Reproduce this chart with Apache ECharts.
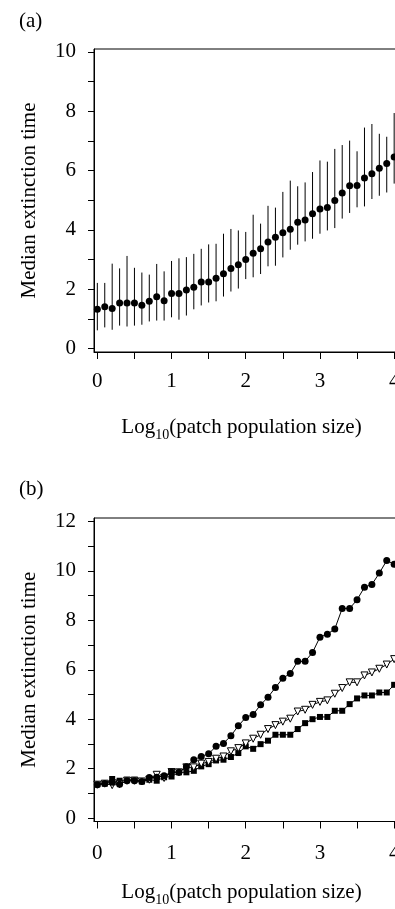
<!DOCTYPE html>
<html>
<head>
<meta charset="utf-8">
<script src="https://cdn.jsdelivr.net/npm/echarts@6/dist/echarts.min.js"></script>
<style>
html,body{margin:0;padding:0;background:#fff;}
#chart{width:395px;height:909px;}
</style>
</head>
<body>
<div id="chart"></div>
<script>
// x positions: log10(patch population size)
const xVals = [0,0.1,0.2,0.3,0.4,0.5,0.6,0.7,0.8,0.9,1.0,1.1,1.2,1.3,1.4,1.5,1.6,1.7,1.8,1.9,2.0,2.1,2.2,2.3,2.4,2.5,2.6,2.7,2.8,2.9,3.0,3.1,3.2,3.3,3.4,3.5,3.6,3.7,3.8,3.9,4.0];

// Panel (a): median extinction time with error bars
const medianA = [1.32,1.41,1.35,1.53,1.53,1.53,1.46,1.59,1.74,1.61,1.85,1.85,1.97,2.06,2.24,2.24,2.37,2.52,2.70,2.82,3.00,3.21,3.36,3.59,3.75,3.90,4.02,4.26,4.33,4.54,4.70,4.75,4.99,5.24,5.49,5.50,5.75,5.89,6.08,6.24,6.46];
const lowA = [0.61,0.71,0.63,0.77,0.74,0.77,0.80,0.91,0.94,0.94,1.05,0.97,1.11,1.32,1.45,1.55,1.59,1.75,1.92,2.02,2.34,2.40,2.51,2.77,2.79,3.07,3.33,3.50,3.61,3.70,3.87,3.98,4.06,4.38,4.57,4.76,4.79,5.04,5.15,5.26,5.56];
const highA = [2.21,2.21,2.86,2.70,3.12,2.72,2.56,2.49,2.85,2.60,2.95,3.04,3.08,3.19,3.36,3.51,3.53,3.87,4.03,3.98,3.93,4.51,4.21,4.81,4.75,5.28,5.66,5.47,5.60,5.95,6.34,6.30,6.73,6.86,7.01,6.65,7.45,7.57,7.24,7.14,7.94];

// Panel (b): three series
const circB = [1.35,1.40,1.45,1.37,1.51,1.51,1.48,1.64,1.65,1.71,1.86,1.85,2.08,2.36,2.49,2.60,2.90,3.02,3.33,3.73,4.07,4.19,4.58,4.89,5.28,5.66,5.85,6.34,6.34,6.70,7.32,7.44,7.65,8.48,8.48,8.83,9.34,9.45,9.91,10.42,10.27];
const triB = [1.35,1.39,1.33,1.37,1.51,1.51,1.48,1.55,1.75,1.62,1.86,1.85,2.05,2.05,2.20,2.27,2.40,2.49,2.70,2.83,3.02,3.21,3.37,3.60,3.76,3.90,4.02,4.31,4.38,4.58,4.70,4.76,5.03,5.26,5.49,5.49,5.77,5.89,6.04,6.21,6.43];
const sqB = [1.37,1.39,1.58,1.51,1.55,1.55,1.48,1.55,1.51,1.65,1.68,1.85,1.85,1.91,2.09,2.18,2.33,2.36,2.47,2.63,2.90,2.80,2.99,3.13,3.37,3.37,3.37,3.60,3.84,4.00,4.09,4.09,4.34,4.34,4.61,4.84,4.96,4.96,5.08,5.08,5.39];

// Tick values
const xTicks = [0,0.5,1,1.5,2,2.5,3,3.5,4];
const xLabels = [0,1,2,3,4];
const yTicksA = [0,1,2,3,4,5,6,7,8,9,10];
const yLabelsA = [0,2,4,6,8,10];
const yTicksB = [0,1,2,3,4,5,6,7,8,9,10,11,12];
const yLabelsB = [0,2,4,6,8,10,12];

const FONT = "'Liberation Serif','DejaVu Serif',serif";
const chart = echarts.init(document.getElementById('chart'), null, {renderer:'canvas'});

function xAxisCfg(gi, labelMargin, nameGap){
  return {
    type:'value', gridIndex:gi, min:-0.045, max:4.2,
    name:'Log{sub|10}(patch population size)', nameLocation:'middle', nameGap:nameGap,
    nameTextStyle:{fontFamily:FONT, fontSize:21, color:'#000', lineHeight:30, padding:[0,20,0,0],
      rich:{sub:{fontFamily:FONT, fontSize:14, lineHeight:14, verticalAlign:'bottom', color:'#000'}}},
    axisLine:{show:true, onZero:false, lineStyle:{color:'#000', width:1}},
    axisTick:{show:true, length:7, customValues:xTicks, lineStyle:{color:'#000'}},
    axisLabel:{customValues:xLabels, margin:labelMargin, fontFamily:FONT, fontSize:21, color:'#000', hideOverlap:false},
    splitLine:{show:false}
  };
}
function yAxisCfg(gi, min, max, ticks, labels){
  return {
    type:'value', gridIndex:gi, min:min, max:max,
    name:'Median extinction time', nameLocation:'middle', nameGap:54,
    nameTextStyle:{fontFamily:FONT, fontSize:21, color:'#000'},
    axisLine:{show:true, onZero:false, lineStyle:{color:'#000', width:1}},
    axisTick:{show:true, length:6, customValues:ticks, lineStyle:{color:'#000'}},
    axisLabel:{customValues:labels, margin:18, fontFamily:FONT, fontSize:21, color:'#000'},
    splitLine:{show:false}
  };
}

const errData = xVals.map((x,i)=>[x, lowA[i], highA[i]]);

const option = {
  animation:false,
  backgroundColor:'#fff',
  title:[
    {text:'(a)', left:14, top:6, textStyle:{fontFamily:FONT, fontSize:21, fontWeight:'normal', color:'#000'}},
    {text:'(b)', left:14, top:474, textStyle:{fontFamily:FONT, fontSize:21, fontWeight:'normal', color:'#000'}}
  ],
  grid:[
    {left:94, top:49, width:315, height:303, show:true, borderColor:'#000', borderWidth:1, backgroundColor:'transparent', containLabel:false, outerBoundsMode:'none'},
    {left:94, top:518, width:315, height:303.5, show:true, borderColor:'#000', borderWidth:1, backgroundColor:'transparent', containLabel:false, outerBoundsMode:'none'}
  ],
  xAxis:[xAxisCfg(0, 19, 60), xAxisCfg(1, 21, 56)],
  yAxis:[yAxisCfg(0,-0.12,10.1,yTicksA,yLabelsA), yAxisCfg(1,-0.14,12.14,yTicksB,yLabelsB)],
  series:[
    {
      type:'custom', xAxisIndex:0, yAxisIndex:0, data:errData,
      encode:{x:0, y:[1,2]},
      renderItem:function(params, api){
        const x = api.value(0);
        const p1 = api.coord([x, api.value(1)]);
        const p2 = api.coord([x, api.value(2)]);
        return {type:'line', shape:{x1:p1[0], y1:p1[1], x2:p2[0], y2:p2[1]}, style:{stroke:'#000', lineWidth:1}};
      },
      z:1
    },
    {
      type:'scatter', xAxisIndex:0, yAxisIndex:0,
      data:xVals.map((x,i)=>[x, medianA[i]]),
      symbol:'circle', symbolSize:7, itemStyle:{color:'#000', opacity:1}, z:2
    },
    {
      type:'line', xAxisIndex:1, yAxisIndex:1,
      data:xVals.map((x,i)=>[x, sqB[i]]),
      symbol:'rect', symbolSize:6, showAllSymbol:true,
      lineStyle:{color:'#000', width:1}, itemStyle:{color:'#000', borderWidth:0}, z:2
    },
    {
      type:'line', xAxisIndex:1, yAxisIndex:1,
      data:xVals.map((x,i)=>[x, triB[i]]),
      symbol:'triangle', symbolRotate:180, symbolSize:7, showAllSymbol:true,
      lineStyle:{color:'#000', width:1}, itemStyle:{color:'#fff', borderColor:'#000', borderWidth:1}, z:3
    },
    {
      type:'line', xAxisIndex:1, yAxisIndex:1,
      data:xVals.map((x,i)=>[x, circB[i]]),
      symbol:'circle', symbolSize:7, showAllSymbol:true,
      lineStyle:{color:'#000', width:1}, itemStyle:{color:'#000', borderWidth:0}, z:4
    }
  ]
};
chart.setOption(option);
</script>
</body>
</html>
